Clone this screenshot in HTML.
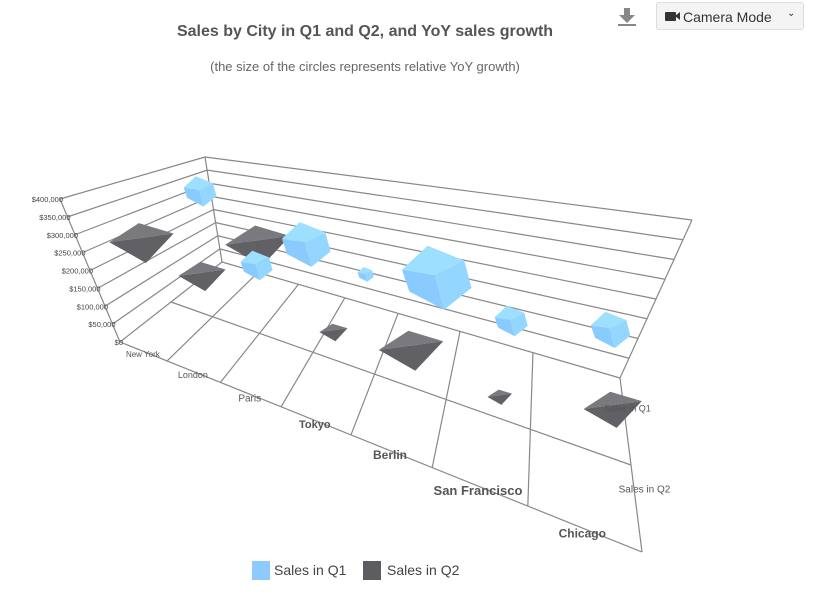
<!DOCTYPE html>
<html><head><meta charset="utf-8"><style>
body{margin:0;background:#fff;font-family:"Liberation Sans",sans-serif;}
#wrap{position:relative;width:815px;height:594px;overflow:hidden;}
svg text{font-family:"Liberation Sans",sans-serif;}
#cam{position:absolute;left:656px;top:2px;width:148px;height:28px;border:1px solid #ddd;border-radius:3px;background:#f4f4f4;box-sizing:border-box;font-size:14px;color:#333;}
</style></head><body>
<div id="wrap">
<svg id="chart" width="815" height="594">
<text x="365" y="36" text-anchor="middle" font-size="16" font-weight="bold" fill="#555">Sales by City in Q1 and Q2, and YoY sales growth</text>
<text x="365" y="71" text-anchor="middle" font-size="13" fill="#666">(the size of the circles represents relative YoY growth)</text>
<g fill="#888"><rect x="624" y="8" width="6" height="8"/><polygon points="619,15 635,15 627,23"/><rect x="618" y="24" width="18" height="2"/></g>
<g id="grid"></g><g id="marks"></g><g id="labels"></g>
<g>
<g><rect x="252" y="561" width="18" height="19" fill="#8ccaff"/><text x="274" y="575" font-size="14" fill="#444">Sales in Q1</text></g>
<g><rect x="363" y="561" width="18" height="19" fill="#5c5c61"/><text x="387" y="575" font-size="14" fill="#444">Sales in Q2</text></g>
</g>
</svg>
<div id="cam">
<span style="position:absolute;left:8px;top:9px;width:11px;height:9px;background:#333;border-radius:1px"></span>
<span style="position:absolute;left:18px;top:9px;width:0;height:0;border-top:4.5px solid transparent;border-bottom:4.5px solid transparent;border-right:5px solid #333"></span>
<span style="position:absolute;left:26px;top:6px">Camera Mode</span>
<span style="position:absolute;left:130px;top:5px;font-size:10px">&#8964;</span>
</div>
</div>
<script>
const categories=["New York","London","Paris","Tokyo","Berlin","San Francisco","Chicago"];
const q1Sales=[332000,119000,226000,176000,214000,148000,184000];
const q2Sales=[258000,202000,329000,150000,163000,118000,162000];
const q1Growth=[18,17,25,8,33,15,17];
const q2Growth=[38,27,36,15,33,12,27];
const yTicks=[0,50000,100000,150000,200000,250000,300000,350000,400000];
const yTickLabels=["$0","$50,000","$100,000","$150,000","$200,000","$250,000","$300,000","$350,000","$400,000"];
const YMAX=400000;
const NS="http://www.w3.org/2000/svg";
const FL=[120,342],FR=[642,552],BL=[222,262],BR=[620,378];
const HFL=[-60,-143],HFR=[95,-215],HBL=[-17,-105],HBR=[72,-158];
function lerp(a,b,t){return [a[0]+(b[0]-a[0])*t,a[1]+(b[1]-a[1])*t];}
function warp(t){return t/(1.68-0.68*t);}
function proj(t,v,val){const u=warp(t);
 const f=lerp(FL,FR,u),b=lerp(BL,BR,u),p=lerp(f,b,v);
 const hf=lerp(HFL,HFR,u),hb=lerp(HBL,HBR,u),h=lerp(hf,hb,v);
 const k=val/YMAX;return [p[0]+h[0]*k,p[1]+h[1]*k];}
function el(tag,attrs,parent){const e=document.createElementNS(NS,tag);for(const k in attrs)e.setAttribute(k,attrs[k]);parent.appendChild(e);return e;}
const grid=document.getElementById('grid'),marks=document.getElementById('marks'),labels=document.getElementById('labels');
function line(a,b,name){const l=el('line',{x1:a[0],y1:a[1],x2:b[0],y2:b[1],stroke:'#888','stroke-width':1.2},grid);
 
 }
yTicks.forEach((tv,i)=>{const a=proj(0,0,tv),b=proj(0,1,tv),c=proj(1,1,tv);
 line(a,b,'left-wall-gridline');line(b,c,'back-wall-gridline');
 const t=el('text',{x:a[0]+3,y:a[1]+3,'text-anchor':'end','font-size':7.5,fill:'#444'},labels);t.textContent=yTickLabels[i];
 
 });
line(proj(0,0,0),proj(0,0,YMAX),'left-wall-front-edge');
line(proj(0,1,0),proj(0,1,YMAX),'back-left-edge');
line(proj(1,1,0),proj(1,1,YMAX),'back-right-edge');
line(proj(0,0,0),proj(1,0,0),'floor-front-edge');
line(proj(1,0,0),proj(1,1,0),'floor-right-edge');
line(proj(0,0.5,0),proj(1,0.5,0),'floor-row-divider');
for(let i=1;i<categories.length;i++){const t=i/categories.length;line(proj(t,0,0),proj(t,1,0),'floor-category-divider');}
const sizes=[8,9,10,11,12,13,12];
categories.forEach((c,i)=>{const t=(i+0.5)/categories.length;const p=proj(t,0,0);
 const tx=el('text',{x:p[0],y:p[1]+6+i*0.6,'text-anchor':'middle','font-size':sizes[i],fill:'#555','font-weight':i>=3?'bold':'normal'},labels);tx.textContent=c;
 
 });
[["Sales in Q1",0.75,9,2,-10],["Sales in Q2",0.25,10,8,-16]].forEach(r=>{const p=proj(1,r[1],0);
 const tx=el('text',{x:p[0]+r[3],y:p[1]+r[4],'text-anchor':'middle','font-size':r[2],fill:'#555'},labels);tx.textContent=r[0];
 
 });
function pts(a){return a.map(p=>p[0].toFixed(1)+','+p[1].toFixed(1)).join(' ');}
categories.forEach((c,i)=>{const t=(i+0.5)/categories.length;
 const p=proj(t,0.25,q2Sales[i]);const s=q2Growth[i]*(0.9+0.3*warp(t));const x=p[0]+5,y=p[1];
 const g=el('g',{},marks);
 
 
 const L=[x-s,y],T=[x-s*0.15,y-s*0.55],R=[x+s*0.85,y-s*0.25],B=[x+s*0.05,y+s*0.6];
 el('polygon',{points:pts([L,T,R]),fill:'#7a7a7e'},g);
 el('polygon',{points:pts([L,R,B]),fill:'#616165'},g);
});
categories.forEach((c,i)=>{const t=(i+0.5)/categories.length;
 const p=proj(t,0.75,q1Sales[i]);const s=q1Growth[i]*(0.9+0.3*warp(t))*1.05;const x=p[0]+4,y=p[1];
 const g=el('g',{},marks);
 
 
 const A=[x-s*0.95,y-s*0.2],Bt=[x-s*0.25,y-s*0.85],Cc=[x+s*0.75,y-s*0.45],D=[x+s*0.95,y+s*0.3],E=[x+s*0.2,y+s*0.9],F=[x-s*0.75,y+s*0.4],M=[x-s*0.05,y-s*0.05];
 el('polygon',{points:pts([A,Bt,Cc,M]),fill:'#9ddfff'},g);
 el('polygon',{points:pts([A,M,E,F]),fill:'#8acbff'},g);
 el('polygon',{points:pts([M,Cc,D,E]),fill:'#93d6ff'},g);
});
document.getElementById('chart').appendChild(labels);
</script>
</body></html>
